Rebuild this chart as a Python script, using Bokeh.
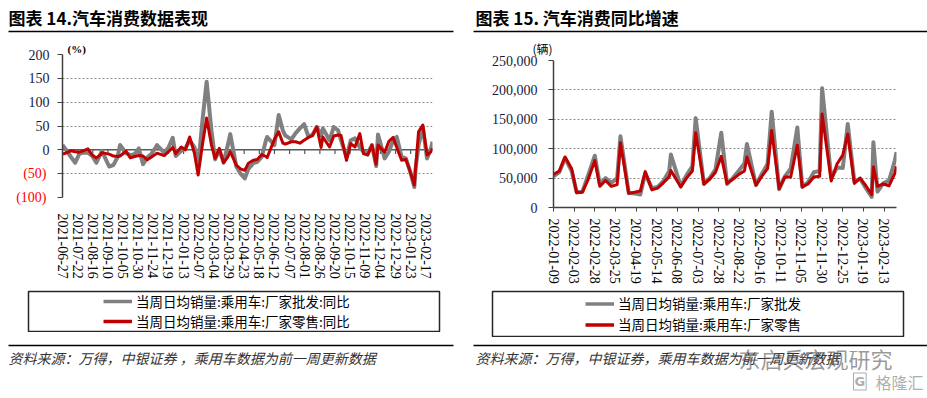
import pandas as pd
from bokeh.plotting import figure
from bokeh.layouts import row, column
from bokeh.models import (FixedTicker, DatetimeTickFormatter, Label, BoxAnnotation, Legend,
                          LegendItem, Span, NumeralTickFormatter, ColumnDataSource, Range1d,
                          LinearAxis, Title)
from bokeh.embed import file_html
from bokeh.resources import INLINE

# ---------------- data ----------------
# reporting period end days per month (weekly + month end)
PERIOD_DAYS = {
    "2021-06": [27, 30], "2021-07": [11, 18, 25, 31], "2021-08": [8, 15, 22, 29, 31],
    "2021-09": [12, 19, 26, 30], "2021-10": [10, 17, 24, 31], "2021-11": [7, 14, 21, 28, 30],
    "2021-12": [12, 19, 26, 31], "2022-01": [9, 16, 23, 31], "2022-02": [6, 13, 20, 28],
    "2022-03": [6, 13, 20, 27, 31], "2022-04": [10, 17, 24, 30], "2022-05": [8, 15, 22, 29, 31],
    "2022-06": [12, 19, 26, 30], "2022-07": [10, 17, 24, 31], "2022-08": [7, 14, 21, 28, 31],
    "2022-09": [11, 18, 25, 30], "2022-10": [9, 16, 23, 31], "2022-11": [6, 13, 20, 27, 30],
    "2022-12": [11, 18, 25, 31], "2023-01": [8, 15, 22, 29, 31], "2023-02": [5, 12, 19, 26, 28],
}
DATES = [f"{ym}-{d:02d}" for ym, days in PERIOD_DAYS.items() for d in days]

# 图表14: 同比 (%)
WHOLESALE_YOY = [10, 5, -15, -27, -8, -6, -6, -13, -27, -8, -2, -35, -32, -15, 10,
                 -7, -11, -9, 3, -30, -16, -8, 5, 10, -6, 5, 25, -13,
                 -2, 3, 20, 5, -35, 60, 143, 40, -20, 0, -27, 10, 33, -35, -50, -60, -40,
                 -28, -25, -15, 20, 27, 10, 73, 40, 30, 22, 35, 45, 54, 28, 32, 48, 30, 45,
                 20, 48, 41, 20, -15, 20, 24, 5, -4, -8, 10, -34, 32, -18, -4, 20, 27,
                 -15, -18, -45, -78, -40, 10, 48, -18, 5, 17]
RETAIL_YOY = [-8, -8, -2, -4, -5, -2, 2, -11, -17, -10, -6, -9, -13, -14, -13,
              -3, -17, -14, -12, -13, -21, -15, -9, -7, -12, -4, 5, -8,
              6, 0, 27, -8, -53, 10, 67, 10, -18, 3, -27, -15, -4, -32, -40, -43, -28,
              -22, -20, -10, -14, -16, 22, 38, 14, 12, 17, 17, 14, 20, 26, 30, 48, 5, 27,
              6, 29, 31, 30, -22, 13, 6, 34, -8, -11, 10, -30, 10, -5, 18, 26, 5,
              -22, -20, -45, -74, -40, 38, 52, -11, -3, 3]

# 图表15: 当周日均销量 (辆), from 2022-01-09
RIGHT_START = "2022-01-09"
WHOLESALE = [53000, 60000, 84000, 62000, 26000, 27000, 55000, 88000,
             40000, 50000, 42000, 50000, 121000, 25000, 24000, 22000, 58000,
             33000, 35000, 45000, 62000, 90000, 36000, 55000, 70000, 152000,
             40000, 50000, 65000, 127000, 40000, 50000, 62000, 75000, 108000,
             38000, 57000, 74000, 163000, 31000, 53000, 66000, 136000,
             35000, 43000, 60000, 62000, 203000, 50000, 68000, 67000, 142000,
             44000, 49000, 33000, 18000, 111000, 27000, 41000, 46000, 80000, 94000]
RETAIL = [56000, 62000, 86000, 66000, 25000, 26000, 48000, 80000,
          36000, 46000, 36000, 39000, 110000, 24000, 26000, 28000, 61000,
          30000, 33000, 42000, 52000, 63000, 35000, 50000, 62000, 127000,
          40000, 48000, 60000, 87000, 41000, 48000, 56000, 62000, 86000,
          38000, 53000, 66000, 131000, 32000, 52000, 52000, 106000,
          35000, 40000, 52000, 53000, 159000, 45000, 74000, 89000, 125000,
          41000, 50000, 37000, 22000, 69000, 36000, 40000, 37000, 58000, 70000]

LEFT_XTICKS = ["2021-06-27", "2021-07-22", "2021-08-16", "2021-09-10", "2021-10-05",
               "2021-10-30", "2021-11-24", "2021-12-19", "2022-01-13", "2022-02-07",
               "2022-03-04", "2022-03-29", "2022-04-23", "2022-05-18", "2022-06-12",
               "2022-07-07", "2022-08-01", "2022-08-26", "2022-09-20", "2022-10-15",
               "2022-11-09", "2022-12-04", "2022-12-29", "2023-01-23", "2023-02-17"]
RIGHT_XTICKS = ["2022-01-09", "2022-02-03", "2022-02-28", "2022-03-25", "2022-04-19",
                "2022-05-14", "2022-06-08", "2022-07-03", "2022-07-28", "2022-08-22",
                "2022-09-16", "2022-10-11", "2022-11-05", "2022-11-30", "2022-12-25",
                "2023-01-19", "2023-02-13"]
LEFT_YTICKS = [-100, -50, 0, 50, 100, 150, 200]
RIGHT_YTICKS = [0, 50000, 100000, 150000, 200000, 250000]

LEFT_TITLE = "图表 14.汽车消费数据表现"
RIGHT_TITLE = "图表 15. 汽车消费同比增速"
LEFT_UNIT = "(%)"
RIGHT_UNIT = "(辆)"
LEFT_NAMES = ["当周日均销量:乘用车:厂家批发:同比", "当周日均销量:乘用车:厂家零售:同比"]
RIGHT_NAMES = ["当周日均销量:乘用车:厂家批发", "当周日均销量:乘用车:厂家零售"]
LEFT_SOURCE = "资料来源：万得，中银证券 ，乘用车数据为前一周更新数据"
RIGHT_SOURCE = "资料来源：万得，中银证券，乘用车数据为前一周更新数据"
WATERMARK = "东启兵宏观研究"
LOGO = "格隆汇"

# ---------------- styling ----------------
GRAY = "#808080"
RED = "#C00000"
AX = "#404040"
LBL = "#1a1a3a"
SERIF = "Liberation Serif"
CJK = "Noto Sans CJK SC"
FMT = "%Y-%m-%d"


def ms(s):
    return pd.Timestamp(s).value / 1e6


def no_align(p):
    try:
        p.frame_align = False
    except Exception:
        pass


def dt_formatter():
    return DatetimeTickFormatter(days=FMT, months=FMT, years=FMT, hours=FMT, hourmin=FMT,
                                 minutes=FMT, minsec=FMT, seconds=FMT, milliseconds=FMT,
                                 microseconds=FMT)


def blank_fig(width, height, bl=0, br=0, bt=0, bb=0):
    p = figure(width=width, height=height, output_backend="svg", toolbar_location=None,
               x_axis_location=None, y_axis_location=None, min_border_left=bl,
               min_border_right=br, min_border_top=bt, min_border_bottom=bb,
               x_range=Range1d(0, 1), y_range=Range1d(0, 1))
    p.outline_line_color = None
    p.grid.visible = False
    p.background_fill_color = "white"
    p.border_fill_color = "white"
    no_align(p)
    return p


def text(p, x, y, s, font=CJK, size="13px", style="normal", color="black", align="left",
         alpha=1.0, **kw):
    p.add_layout(Label(x=x, y=y, x_units="screen", y_units="screen", text=s, text_font=font,
                       text_font_size=size, text_font_style=style, text_color=color,
                       text_align=align, text_baseline="middle", text_alpha=alpha, **kw))


def hrule(p, left, right, y, width=1.5, color="black"):
    p.add_layout(BoxAnnotation(left=left, right=right, top=y + width / 2, bottom=y - width / 2,
                               left_units="screen", right_units="screen", top_units="screen",
                               bottom_units="screen", fill_color=color, fill_alpha=1,
                               line_color=None))


def head(width, height, title, tx, rl, rr):
    p = blank_fig(width, height)
    text(p, tx, height - 17, title, size="17px", style="bold")
    hrule(p, rl, rr, height - 31)
    return p


def legend_fig(width, height, bl, br, names, lx, ly, row_h):
    p = blank_fig(width, height, bl, br, 1, 1)
    p.outline_line_color = "#262626"
    p.outline_line_width = 1.5
    nan = [float("nan")]
    g = p.line(x=nan, y=nan, line_color=GRAY, line_width=3.5)
    r = p.line(x=nan, y=nan, line_color=RED, line_width=3.5)
    items = [LegendItem(label=n, renderers=[k]) for n, k in zip(names, [g, r])]
    p.add_layout(Legend(items=items, location=(lx, ly), orientation="vertical",
                        border_line_color=None, background_fill_alpha=0, padding=0, spacing=0,
                        margin=0, glyph_width=29, glyph_height=row_h, label_height=row_h,
                        label_standoff=4, label_text_font=CJK, label_text_font_size="13.5px",
                        label_text_color="black"))
    return p


def chart_fig(width, height, bl, br, bt, bb, x0, x1, y0, y1):
    p = figure(width=width, height=height, x_axis_type="datetime", output_backend="svg",
               toolbar_location=None, min_border_left=bl, min_border_right=br,
               min_border_top=bt, min_border_bottom=bb,
               x_range=Range1d(ms(x0), ms(x1)), y_range=Range1d(y0, y1))
    no_align(p)
    p.outline_line_color = None
    p.background_fill_color = "white"
    p.border_fill_color = "white"
    p.xgrid.visible = False
    p.ygrid.grid_line_color = "#8c8c8c"
    p.ygrid.grid_line_dash = "2 2"
    p.ygrid.grid_line_width = 1
    p.xaxis.formatter = dt_formatter()
    p.xaxis.major_label_orientation = "vertical"
    p.xaxis.major_label_text_font = SERIF
    p.xaxis.major_label_text_font_size = "14px"
    p.xaxis.major_label_text_color = "black"
    p.xaxis.minor_tick_line_color = None
    p.yaxis.axis_line_color = AX
    p.yaxis.axis_line_width = 1.5
    p.yaxis.major_tick_line_color = AX
    p.yaxis.major_tick_out = 5
    p.yaxis.major_tick_in = 0
    p.yaxis.minor_tick_line_color = None
    p.yaxis.major_label_text_font = SERIF
    p.yaxis.major_label_text_font_size = "14px"
    p.yaxis.major_label_text_color = LBL
    return p


# ---------------- left chart ----------------
src_l = ColumnDataSource(dict(date=pd.to_datetime(DATES), w=WHOLESALE_YOY, r=RETAIL_YOY))
pl = chart_fig(463, 250, 62, 31, 14, 93, DATES[0], DATES[-1], LEFT_YTICKS[0], LEFT_YTICKS[-1])
neg = [t for t in LEFT_YTICKS if t < 0]
pl.yaxis.ticker = FixedTicker(ticks=LEFT_YTICKS)
pl.yaxis.major_label_standoff = 8
pl.yaxis.major_label_overrides = {t: "" for t in neg}
# negative tick labels in red on an outer axis pulled back next to the black ones
red_axis = LinearAxis(ticker=FixedTicker(ticks=neg), axis_line_color=None,
                      major_tick_line_color=None, minor_tick_line_color=None,
                      major_tick_out=0, major_tick_in=0, major_label_standoff=-21,
                      major_label_text_font=SERIF, major_label_text_font_size="14px",
                      major_label_text_color="#FF0000",
                      major_label_overrides={t: f"({abs(t)})" for t in neg})
pl.add_layout(red_axis, "left")
pl.ygrid.ticker = FixedTicker(ticks=[t for t in LEFT_YTICKS if t != 0])
lt = [ms(s) for s in LEFT_XTICKS]
pl.xaxis.ticker = FixedTicker(ticks=lt)
pl.xaxis.axis_line_color = None
pl.xaxis.major_tick_line_color = None
pl.xaxis.major_label_standoff = 10
pl.add_layout(Span(location=0, dimension="width", line_color="#595959", line_width=1.5,
                   level="underlay"))
# small tick marks under the zero line at the date ticks
pl.segment(x0=lt, y0=[0] * len(lt), x1=lt, y1=[-8.5] * len(lt), line_color="#595959",
           line_width=1.2)
pl.line("date", "w", source=src_l, line_color=GRAY, line_width=4, line_join="round")
pl.line("date", "r", source=src_l, line_color=RED, line_width=3, line_join="round")
pl.add_layout(Title(text=LEFT_UNIT, align="left", offset=5, standoff=0, text_font=SERIF,
                    text_font_size="11px", text_font_style="bold", text_color="black"), "above")

# ---------------- right chart ----------------
rd = [d for d in DATES if d >= RIGHT_START]
src_r = ColumnDataSource(dict(date=pd.to_datetime(rd), w=WHOLESALE, r=RETAIL))
pr = chart_fig(464, 256, 90, 31, 25, 83, rd[0], rd[-1], RIGHT_YTICKS[0], RIGHT_YTICKS[-1])
pr.yaxis.ticker = FixedTicker(ticks=RIGHT_YTICKS)
pr.yaxis.formatter = NumeralTickFormatter(format="0,0")
pr.yaxis.major_label_standoff = 11
pr.ygrid.ticker = FixedTicker(ticks=[t for t in RIGHT_YTICKS if t != 0])
pr.xaxis.ticker = FixedTicker(ticks=[ms(s) for s in RIGHT_XTICKS])
pr.xaxis.axis_line_color = AX
pr.xaxis.axis_line_width = 1.5
pr.xaxis.major_tick_line_color = AX
pr.xaxis.major_tick_out = 4
pr.xaxis.major_tick_in = 0
pr.xaxis.major_label_standoff = 7
pr.line("date", "w", source=src_r, line_color=GRAY, line_width=4, line_join="round")
pr.line("date", "r", source=src_r, line_color=RED, line_width=3, line_join="round")
pr.add_layout(Title(text=RIGHT_UNIT, align="left", offset=-21, standoff=7, text_font=CJK,
                    text_font_size="12px", text_font_style="normal", text_color="black"), "above")

# ---------------- titles, legends, sources ----------------
hl = head(463, 40, LEFT_TITLE, 8, 8, 453)
hr = head(464, 34, RIGHT_TITLE, 12, 10, 464)
ll = legend_fig(463, 42, 28, 24, LEFT_NAMES, 75, 0, 20)
lr = legend_fig(464, 47, 29, 24, RIGHT_NAMES, 93, 1.5, 21)

fl = blank_fig(463, 66)
hrule(fl, 8, 453, 53)
text(fl, 8, 41, LEFT_SOURCE, size="14px", style="italic", color="#333333")

fr = blank_fig(464, 61)
hrule(fr, 10, 464, 53)
text(fr, 12, 41, RIGHT_SOURCE, size="14px", style="italic", color="#333333")
text(fr, 275, 41, WATERMARK, size="22px", color="#555555", alpha=0.6)
text(fr, 390, 17, "G", font="DejaVu Sans", size="13px", style="bold", color="#8a8a8a",
     alpha=0.7, border_line_color="#8a8a8a", border_line_alpha=0.7, padding=1)
text(fr, 412, 17, LOGO, size="16px", color="#8a8a8a", alpha=0.7)

layout = row(column(hl, pl, ll, fl), column(hr, pr, lr, fr))
open("out.html", "w").write(file_html(layout, INLINE))
